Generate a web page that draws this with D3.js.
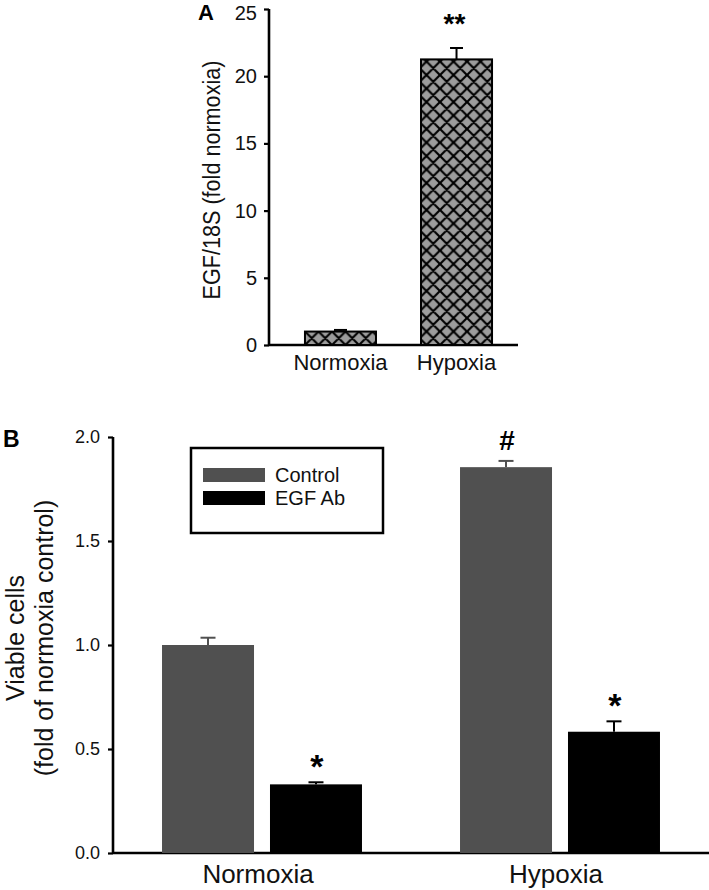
<!DOCTYPE html>
<html><head><meta charset="utf-8">
<script src="https://cdn.jsdelivr.net/npm/d3@7"></script>
<style>body{margin:0;background:#fff}svg{display:block;font-family:"Liberation Sans",Arial,sans-serif}</style>
</head><body>
<svg id="c" width="709" height="890"></svg>
<script>
// Panel A data
const catsA = ["Normoxia", "Hypoxia"];
const valsA = [1.0, 21.25];
const errA = [0.12, 0.85];
const sigA = ["", "**"];
const ticksA = [0, 5, 10, 15, 20, 25];

// Panel B data
const groupsB = ["Normoxia", "Hypoxia"];
const seriesB = ["Control", "EGF Ab"];
const controlB = [1.0, 1.855];
const controlErrB = [0.035, 0.03];
const egfAbB = [0.33, 0.583];
const egfAbErrB = [0.01, 0.05];
const sigControlB = ["", "#"];
const sigEgfAbB = ["*", "*"];
const ticksB = [0, 0.5, 1.0, 1.5, 2.0];

const svg = d3.select("#c");

// ---------- Panel A ----------
const defs = svg.append("defs");
const pat = defs.append("pattern").attr("id","hatch").attr("patternUnits","userSpaceOnUse")
  .attr("width",13.5).attr("height",13.5).attr("x",305).attr("y",345);
pat.append("rect").attr("width",13.5).attr("height",13.5).attr("fill","#9c9c9c");
pat.append("path").attr("d","M-3.375,3.375L3.375,-3.375M0,13.5L13.5,0M10.125,16.875L16.875,10.125M-3.375,10.125L3.375,16.875M0,0L13.5,13.5M10.125,-3.375L16.875,3.375")
  .attr("stroke","#000").attr("stroke-width",2.2);

const yA = d3.scaleLinear().domain([0,25]).range([345,9]);
const xA = d3.scaleBand().domain(catsA).range([269,528]).paddingInner(0.388).paddingOuter(0.31);
const gA = svg.append("g");

const axA = gA.append("g").attr("transform","translate(269,0)")
  .call(d3.axisLeft(yA).tickValues(ticksA).tickSize(5).tickPadding(7).tickFormat(d3.format("d")));
axA.select(".domain").attr("d","M0,"+yA(25)+"V"+yA(0)).attr("stroke-width",2.6);
axA.selectAll(".tick line").attr("stroke-width",2.2);
axA.selectAll(".tick text").attr("font-size",20).attr("fill","#111").attr("font-family","Liberation Sans, Arial")
  .attr("y",d=> d===25 ? 4 : 0);

gA.append("line").attr("x1",269).attr("x2",518).attr("y1",yA(0)).attr("y2",yA(0))
  .attr("stroke","#000").attr("stroke-width",2.6);

catsA.forEach((c,i)=>{
  const x0 = xA(c), w = xA.bandwidth(), cx = x0 + w/2;
  gA.append("line").attr("x1",cx).attr("x2",cx).attr("y1",yA(valsA[i])).attr("y2",yA(valsA[i]+errA[i])).attr("stroke","#000").attr("stroke-width",2);
  gA.append("line").attr("x1",cx-6.5).attr("x2",cx+6.5).attr("y1",yA(valsA[i]+errA[i])).attr("y2",yA(valsA[i]+errA[i])).attr("stroke","#000").attr("stroke-width",2);
  gA.append("rect").attr("x",x0).attr("y",yA(valsA[i])).attr("width",w).attr("height",yA(0)-yA(valsA[i]))
    .attr("fill","url(#hatch)").attr("stroke","#000").attr("stroke-width",2);
  gA.append("text").attr("x",cx).attr("y",370).attr("text-anchor","middle").attr("font-size",22).attr("fill","#111").text(c);
  if (sigA[i]) gA.append("text").attr("x",cx-2).attr("y",yA(valsA[i]+errA[i])-15).attr("text-anchor","middle")
    .attr("font-size",28).attr("font-weight","bold").text(sigA[i]);
});
gA.append("text").attr("transform","translate(220,180) rotate(-90) scale(0.9,1)").attr("text-anchor","middle")
  .attr("font-size",24).attr("fill","#111").text("EGF/18S (fold normoxia)");
gA.append("text").attr("x",198).attr("y",20).attr("font-size",22).attr("font-weight","bold").text("A");

// ---------- Panel B ----------
const yB = d3.scaleLinear().domain([0,2]).range([853,437]);
const xB = d3.scaleBand().domain(groupsB).range([113,709]).paddingInner(0.329).paddingOuter(0.1645);
const xSub = d3.scaleBand().domain(seriesB).range([0,xB.bandwidth()]).paddingInner(0.148).paddingOuter(0);
const colB = {"Control":"#505050","EGF Ab":"#000000"};
const gB = svg.append("g");

const axB = gB.append("g").attr("transform","translate(113,0)")
  .call(d3.axisLeft(yB).tickValues(ticksB).tickSize(5).tickPadding(8).tickFormat(d3.format(".1f")));
axB.select(".domain").attr("d","M0,"+yB(2)+"V"+yB(0)).attr("stroke-width",2.6);
axB.selectAll(".tick line").attr("stroke-width",2.2);
axB.selectAll(".tick text").attr("font-size",18).attr("fill","#111").attr("font-family","Liberation Sans, Arial");

gB.append("line").attr("x1",113).attr("x2",709).attr("y1",yB(0)).attr("y2",yB(0))
  .attr("stroke","#000").attr("stroke-width",2.6);

const seriesVals = {"Control":[controlB,controlErrB,sigControlB],"EGF Ab":[egfAbB,egfAbErrB,sigEgfAbB]};
groupsB.forEach((g,i)=>{
  seriesB.forEach(s=>{
    const [v,e,sg] = seriesVals[s];
    const x0 = xB(g)+xSub(s), w = xSub.bandwidth(), cx = x0+w/2;
    gB.append("line").attr("x1",cx).attr("x2",cx).attr("y1",yB(v[i])).attr("y2",yB(v[i]+e[i])).attr("stroke",colB[s]).attr("stroke-width",2);
    gB.append("line").attr("x1",cx-7.5).attr("x2",cx+7.5).attr("y1",yB(v[i]+e[i])).attr("y2",yB(v[i]+e[i])).attr("stroke",colB[s]).attr("stroke-width",2);
    gB.append("rect").attr("x",x0).attr("y",yB(v[i])).attr("width",w).attr("height",yB(0)-yB(v[i])).attr("fill",colB[s]);
    if (sg[i]==="#") gB.append("text").attr("x",cx+1).attr("y",yB(v[i]+e[i])-11).attr("text-anchor","middle")
      .attr("font-size",28).attr("font-weight","bold").text(sg[i]);
    else if (sg[i]) gB.append("text").attr("x",cx+1).attr("y",yB(v[i]+e[i])-4).attr("text-anchor","middle")
      .attr("font-size",34).attr("font-weight","bold").text(sg[i]);
  });
  gB.append("text").attr("x",xB(g)+xB.bandwidth()/2-4).attr("y",883).attr("text-anchor","middle")
    .attr("font-size",26).attr("fill","#111").text(g);
});

gB.append("text").attr("transform","translate(0,638) rotate(-90)").attr("text-anchor","middle")
  .attr("font-size",25).attr("fill","#111")
  .selectAll("tspan").data(["Viable cells","(fold of normoxia control)"]).join("tspan")
  .attr("x",0).attr("y",(d,i)=> i===0 ? 24 : 53).text(d=>d);
gB.append("text").attr("x",3).attr("y",447).attr("font-size",23).attr("font-weight","bold").text("B");

// legend
const lg = gB.append("g");
lg.append("rect").attr("x",191).attr("y",448).attr("width",192).attr("height",85).attr("fill","#fff").attr("stroke","#000").attr("stroke-width",2.5);
seriesB.forEach((s,i)=>{
  lg.append("rect").attr("x",203).attr("y",468+i*23).attr("width",62).attr("height",14).attr("fill",colB[s]);
  lg.append("text").attr("x",275).attr("y",482+i*23).attr("font-size",20).attr("fill","#111").text(s);
});
</script>
</body></html>
